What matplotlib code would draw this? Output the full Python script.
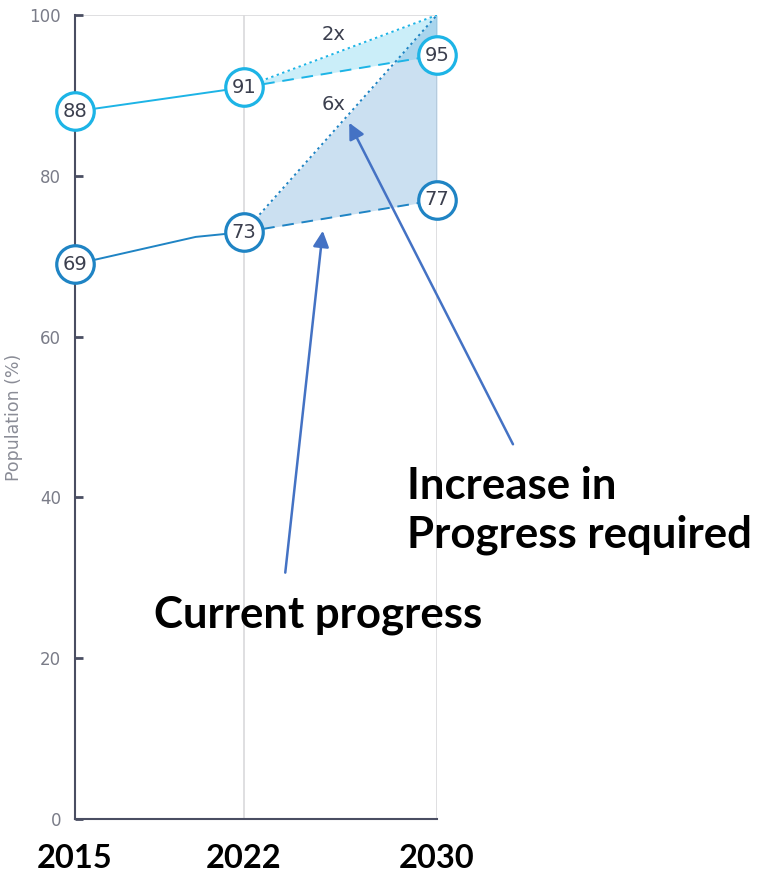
import matplotlib
matplotlib.use("Agg")
import matplotlib.pyplot as plt

# ---- data ----
years_hist = [2015, 2020, 2022]
top_hist = [88, 89.8, 91]
bottom_hist = [69, 72.4, 73]
proj_years = [2022, 2030]
top_current = [91, 95]
top_required = [91, 100]
bottom_current = [73, 77]
bottom_required = [73, 100]
top_labels = {2015: 88, 2022: 91, 2030: 95}
bottom_labels = {2015: 69, 2022: 73, 2030: 77}
x_ticks = [2015, 2022, 2030]
y_ticks = [0, 20, 40, 60, 80, 100]

c_top = "#1db4e6"
c_bot = "#1f84c4"
arrow_c = "#4472c4"
txt_dark = "#3b3f4e"

fig = plt.figure(figsize=(7.6, 8.75), dpi=100)
ax = fig.add_axes([75/760, 56/875, (437-75)/760, (819-15)/875])
ax.set_xlim(2015, 2030)
ax.set_ylim(0, 100)

# grid
for x in [2022, 2030]:
    ax.axvline(x, color="#d9d9dc", lw=1.2, zorder=0)
ax.axhline(100, color="#d9d9dc", lw=1.2, zorder=0)

# fills
ax.fill_between(proj_years, top_current, top_required, color="#6cd0f0", alpha=0.35, lw=0, zorder=1)
ax.fill_between(proj_years, bottom_current, bottom_required, color="#6aa8d8", alpha=0.35, lw=0, zorder=1)

# lines
ax.plot([2015, 2022], [top_hist[0], top_hist[-1]], color=c_top, lw=1.4, zorder=2)
ax.plot(years_hist, bottom_hist, color=c_bot, lw=1.4, zorder=2)
ax.plot(proj_years, top_current, color=c_top, lw=1.4, ls=(0, (6, 4)), zorder=2)
ax.plot(proj_years, top_required, color=c_top, lw=1.4, ls=(0, (1.2, 1.8)), zorder=2)
ax.plot(proj_years, bottom_current, color=c_bot, lw=1.4, ls=(0, (6, 4)), zorder=2)
ax.plot(proj_years, bottom_required, color=c_bot, lw=1.4, ls=(0, (1.2, 1.8)), zorder=2)

# circle labels
for labels, col in [(top_labels, c_top), (bottom_labels, c_bot)]:
    for yr, v in labels.items():
        ax.plot(yr, v, marker="o", ms=27, mfc="white", mec=col, mew=2.3, zorder=5, clip_on=False)
        ax.text(yr, v, f"{v}", ha="center", va="center", fontsize=14, color=txt_dark,
                fontweight="medium", zorder=6)

ax.text(2025.7, 97.6, "2x", ha="center", va="center", fontsize=14, color=txt_dark, fontweight="medium")
ax.text(2025.7, 88.9, "6x", ha="center", va="center", fontsize=14, color=txt_dark, fontweight="medium")

# spines / ticks
for s in ["top", "right"]:
    ax.spines[s].set_visible(False)
for s in ["left", "bottom"]:
    ax.spines[s].set_color("#4a4e62")
    ax.spines[s].set_linewidth(1.5)
ax.set_yticks(y_ticks)
ax.tick_params(axis="y", direction="in", length=6, width=2, color="#4a4e62",
               labelsize=12, labelcolor="#7a7c88", pad=10)
ax.set_xticks(x_ticks)
ax.set_xticklabels([str(x) for x in x_ticks], fontsize=23.5, fontweight="bold",
                   family="Lato", color="black")
ax.tick_params(axis="x", length=0, pad=18)
ax.set_ylabel("Population (%)", fontsize=12.5, color="#8a8c96")
ax.yaxis.set_label_coords(-0.145, 0.5)

# annotations
ax.annotate("", xy=(2025.28, 73.5), xytext=(2023.7, 30.3),
            arrowprops=dict(arrowstyle="-|>", color=arrow_c, lw=1.8, mutation_scale=24),
            annotation_clip=False)
ax.annotate("", xy=(2026.31, 86.9), xytext=(2033.2, 46.3),
            arrowprops=dict(arrowstyle="-|>", color=arrow_c, lw=1.8, mutation_scale=24),
            annotation_clip=False)
ax.text(2025.07, 25.4, "Current progress", ha="center", va="center", fontsize=31.5,
        fontweight="bold", family="Lato", color="black")
ax.text(2028.75, 38.4, "Increase in\nProgress required", ha="left", va="center", fontsize=31.5,
        fontweight="bold", family="Lato", color="black", linespacing=1.25)

fig.savefig("out.png", dpi=100)
